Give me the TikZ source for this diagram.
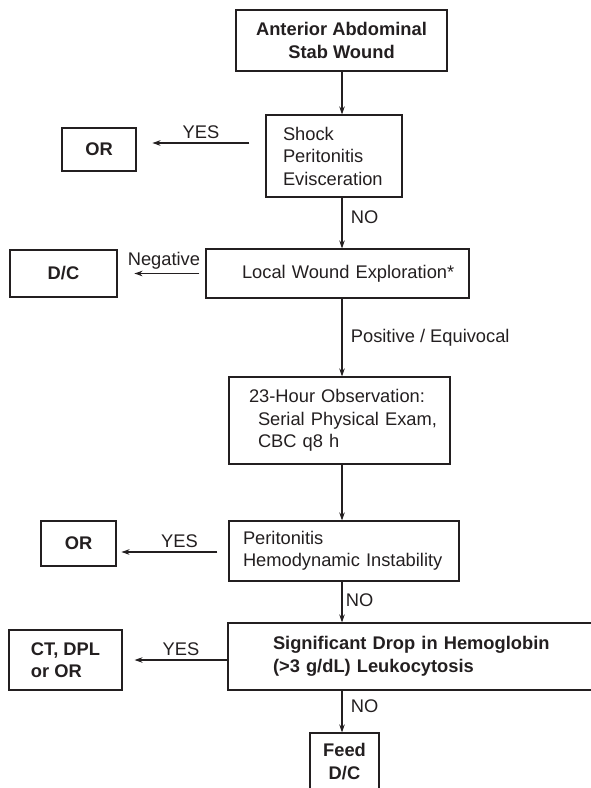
\documentclass[tikz,border=0pt]{standalone}
\usepackage{fontspec}
\setmainfont{Liberation Sans}
\usetikzlibrary{arrows.meta}

\definecolor{ink}{HTML}{231F20}
\newcommand{\flowfont}{\fontsize{18.3pt}{22.5pt}\selectfont}

\tikzset{
	flowbox/.style={draw=ink, text=ink, inner sep=0pt, font=\flowfont},
	boldbox/.style={flowbox, font=\flowfont\bfseries, align=center},
	textbox/.style={flowbox, align=left},
	tag/.style={text=ink, font=\flowfont},
}

\begin{document}
\begin{tikzpicture}[x=1pt, y=-1pt, >={Stealth[length=8pt,width=5.5pt]}, line width=1.1pt, draw=ink]

		\useasboundingbox (0,0) rectangle (590,788);
		\coordinate (axis) at (342,0);

		% boxes down the middle
		\node [boldbox, minimum width=211pt, minimum height=61pt] (wound) at (341.5,40.5) {Anterior Abdominal\\Stab Wound};
		\node [textbox, text width=102pt, inner xsep=17pt, minimum height=82pt] (shock) at (334,156) {Shock\\Peritonitis\\Evisceration};
		\node [textbox, text width=191pt, inner xsep=36pt, minimum height=49pt] (explore) at (337.5,273.5) {\mbox{Local Wound Exploration*}};
		\node [textbox, text width=181pt, inner xsep=20pt, minimum height=87pt] (observe) at (339.5,420.5)
			{23-Hour Observation:\\\mbox{\hspace*{9pt}Serial Physical Exam,}\\\mbox{\hspace*{9pt}CBC q8 h}};
		\node [textbox, text width=202pt, inner xsep=14pt, minimum height=60pt] (instab) at (344,551) {Peritonitis\\\mbox{Hemodynamic Instability}};
		\node [textbox, font=\flowfont\bfseries, text width=292pt, inner xsep=45pt, minimum height=67pt] (hbdrop) at (419,656.5)
			{\mbox{Significant Drop in Hemoglobin}\\\mbox{(>3 g/dL) Leukocytosis}};
		\node [boldbox, minimum width=69pt, minimum height=57pt] (feed) at (344.5,761.5) {Feed\\D/C};

		% boxes on the left
		\node [boldbox, minimum width=74pt, minimum height=43pt] (or-1) at (99,149.5) {OR};
		\node [boldbox, minimum width=107pt, minimum height=47pt] (dc) at (63.5,273.5) {D/C};
		\node [boldbox, minimum width=75pt, minimum height=45pt] (or-2) at (78.5,543.5) {OR};
		\node [boldbox, align=left, minimum width=113pt, minimum height=60pt] (ct) at (65.5,660) {CT, DPL\\or OR};

		% arrows down
		\draw [->] (wound.south -| axis) -- (shock.north -| axis);
		\draw [->] (shock.south -| axis) -- (explore.north -| axis)
			node [tag, right, pos=0.385, xshift=5pt] {NO};
		\draw [->] (explore.south -| axis) -- (observe.north -| axis)
			node [tag, right, midway, xshift=5pt] {Positive / Equivocal};
		\draw [->] (observe.south -| axis) -- (instab.north -| axis);
		\draw [->] (instab.south -| axis) -- (hbdrop.north -| axis)
			node [tag, right, pos=0.45] {NO};
		\draw [->] (hbdrop.south -| axis) -- (feed.north -| axis)
			node [tag, right, pos=0.37, xshift=5pt] {NO};

		% arrows to the left
		\draw [->] ([xshift=-16pt, yshift=13pt]shock.west) -- ++(-97,0)
			node [tag, above, midway] {YES};
		\draw [->] ([xshift=-6pt]explore.west) -- ++(-65,0)
			node [tag, above, midway, xshift=-3pt] {Negative};
		\draw [->] ([xshift=-11pt, yshift=-1pt]instab.west) -- ++(-96,0)
			node [tag, above, midway, xshift=10pt] {YES};
		\draw [->] (hbdrop.west |- ct) -- ([xshift=12pt]ct.east)
			node [tag, above, midway] {YES};

\end{tikzpicture}
\end{document}
